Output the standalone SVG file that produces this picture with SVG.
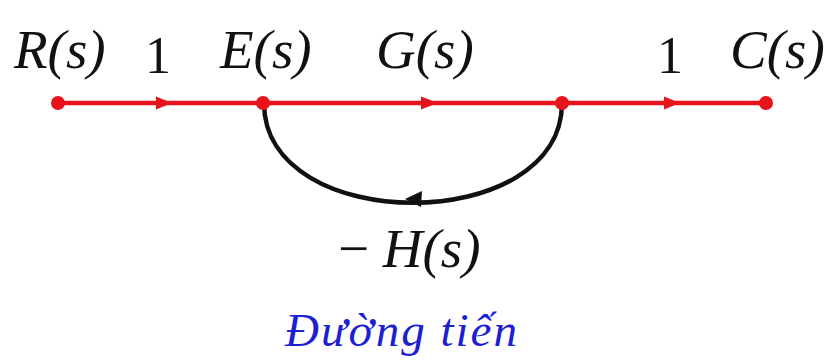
<svg xmlns="http://www.w3.org/2000/svg" width="827" height="364" viewBox="0 0 827 364">
<style>
.lbl{font-family:"Liberation Serif","Times New Roman",serif;font-style:italic;font-size:55px;fill:#111}
.num{font-family:"Liberation Serif","Times New Roman",serif;font-size:52px;fill:#111}
.fwd{stroke:#e8141c;stroke-width:4.5;fill:none}
.node{fill:#e8141c}
.arr{fill:#e8141c}
</style>
<rect width="827" height="364" fill="#ffffff"/>
<g id="connectors">
<line class="fwd" x1="58" y1="103" x2="766" y2="103"/>
<polygon class="arr" points="156,96.5 172,103 156,109.5"/>
<polygon class="arr" points="421,96.5 438,103 421,109.5"/>
<polygon class="arr" points="664,96.5 680,103 664,109.5"/>
<path d="M264,103 C264,236 562,236 562,103" stroke="#111" stroke-width="4.5" fill="none"/>
<polygon points="405,199 422,191 421,207" fill="#111"/>
</g>
<g id="R"><circle class="node" cx="58" cy="103" r="7"/><text class="lbl" x="14" y="68">R(s)</text></g>
<g id="E"><circle class="node" cx="263" cy="103" r="7"/><text class="lbl" x="220" y="68">E(s)</text></g>
<g id="N3"><circle class="node" cx="562" cy="103" r="7"/></g>
<g id="C"><circle class="node" cx="766" cy="103" r="7"/><text class="lbl" x="730" y="68">C(s)</text></g>
<g id="labels">
<text class="num" x="145" y="73">1</text>
<text class="num" x="657" y="73">1</text>
<text class="lbl" x="376" y="68">G(s)</text>
<text class="lbl" x="338" y="267"><tspan font-style="normal">−</tspan> H(s)</text>
<text x="285" y="346" font-family="Liberation Serif,serif" font-style="italic" font-size="47" letter-spacing="2" fill="#1e1ed2">Đường tiến</text>
</g>
</svg>
